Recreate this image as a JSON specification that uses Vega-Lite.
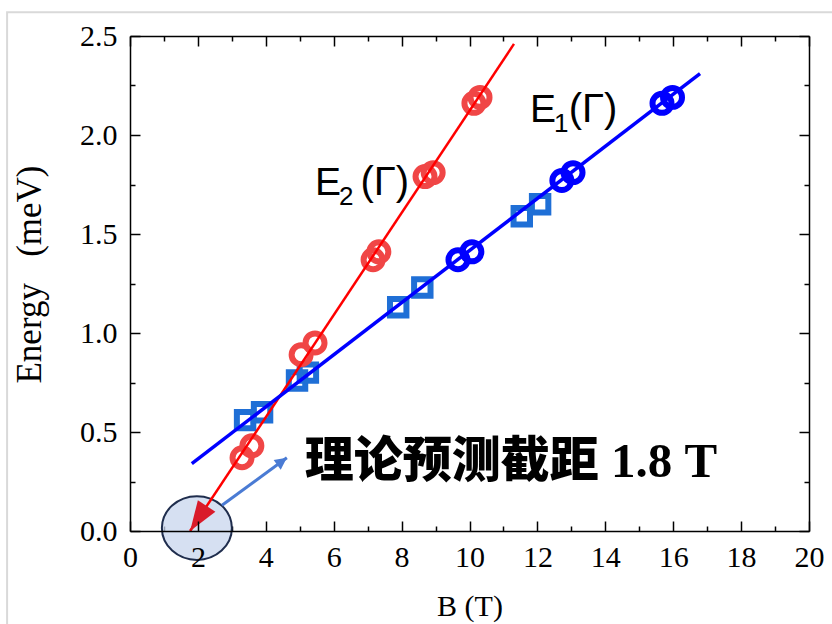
{
  "$schema": "https://vega.github.io/schema/vega-lite/v6.json",
  "width": 679,
  "height": 495,
  "autosize": "none",
  "padding": {"left": 130, "top": 36, "right": 23, "bottom": 93},
  "background": "white",
  "config": {
    "view": {"stroke": null},
    "axis": {
      "domainColor": "black", "domainWidth": 1.5,
      "tickColor": "black", "tickWidth": 1.5,
      "grid": false,
      "labelFont": "Liberation Serif", "labelFontSize": 30, "labelColor": "black",
      "titleFont": "Liberation Serif", "titleFontSize": 30, "titleFontWeight": "normal", "titleColor": "black",
      "labelFlush": false, "labelOverlap": false
    }
  },
  "datasets": {
    "frame": [{"x1": -3.62, "x2": 25, "y1": 2.62, "y2": -1}],
    "ellipse": [{"B": 1.97, "E": 0.015}],
    "pts": [
      {"B": 3.30, "E": 0.37, "series": "E2", "kind": "circle"},
      {"B": 3.59, "E": 0.43, "series": "E2", "kind": "circle"},
      {"B": 5.04, "E": 0.89, "series": "E2", "kind": "circle"},
      {"B": 5.45, "E": 0.95, "series": "E2", "kind": "circle"},
      {"B": 7.16, "E": 1.37, "series": "E2", "kind": "circle"},
      {"B": 7.33, "E": 1.41, "series": "E2", "kind": "circle"},
      {"B": 8.69, "E": 1.79, "series": "E2", "kind": "circle"},
      {"B": 8.93, "E": 1.81, "series": "E2", "kind": "circle"},
      {"B": 10.13, "E": 2.16, "series": "E2", "kind": "circle"},
      {"B": 10.31, "E": 2.19, "series": "E2", "kind": "circle"},
      {"B": 9.66, "E": 1.37, "series": "E1", "kind": "circle"},
      {"B": 10.07, "E": 1.41, "series": "E1", "kind": "circle"},
      {"B": 12.72, "E": 1.77, "series": "E1", "kind": "circle"},
      {"B": 13.05, "E": 1.81, "series": "E1", "kind": "circle"},
      {"B": 15.67, "E": 2.16, "series": "E1", "kind": "circle"},
      {"B": 15.98, "E": 2.19, "series": "E1", "kind": "circle"},
      {"B": 3.39, "E": 0.56, "series": "E1", "kind": "square"},
      {"B": 3.89, "E": 0.60, "series": "E1", "kind": "square"},
      {"B": 4.92, "E": 0.76, "series": "E1", "kind": "square"},
      {"B": 5.24, "E": 0.80, "series": "E1", "kind": "square"},
      {"B": 7.90, "E": 1.13, "series": "E1", "kind": "square"},
      {"B": 8.61, "E": 1.23, "series": "E1", "kind": "square"},
      {"B": 11.54, "E": 1.59, "series": "E1", "kind": "square"},
      {"B": 12.08, "E": 1.65, "series": "E1", "kind": "square"}
    ],
    "fits": [
      {"B": 1.77, "E": 0.0, "series": "E2"},
      {"B": 11.31, "E": 2.46, "series": "E2"},
      {"B": 1.82, "E": 0.34, "series": "E1"},
      {"B": 16.79, "E": 2.31, "series": "E1"}
    ],
    "arrow": [
      {"B": 2.71, "E": 0.13},
      {"B": 4.62, "E": 0.37}
    ],
    "redhead": [{"B": 1.77, "E": 0.0}],
    "bluehead": [{"B": 4.62, "E": 0.37}],
    "labels": [
      {"B": 5.45, "E": 1.697, "Bp": 6.79, "sub": "2"},
      {"B": 11.78, "E": 2.066, "Bp": 12.92, "sub": "1"}
    ],
    "note": [{"B": 5.15, "E": 0.273, "t": "理论预测截距 1.8 T"}]
  },
  "resolve": {"axis": {"x": "independent", "y": "independent"}},
  "layer": [
    {
      "data": {"name": "frame"},
      "mark": {"type": "rect", "fillOpacity": 0, "stroke": "#d9d9d9", "strokeWidth": 2},
      "encoding": {
        "x": {"field": "x1", "type": "quantitative", "scale": {"domain": [0, 20], "nice": false, "zero": false}, "axis": null},
        "x2": {"field": "x2"},
        "y": {"field": "y1", "type": "quantitative", "scale": {"domain": [0, 2.5], "nice": false, "zero": false}, "axis": null},
        "y2": {"field": "y2"}
      }
    },
    {
      "data": {"name": "ellipse"},
      "mark": {"type": "point", "shape": "M-1,0A1,0.91,0,1,1,1,0A1,0.91,0,1,1,-1,0Z", "size": 4900, "filled": true, "fill": "#c8d5ee", "fillOpacity": 0.75, "stroke": "#1f2d4d", "strokeWidth": 2, "opacity": 1},
      "encoding": {
        "x": {"field": "B", "type": "quantitative", "scale": {"domain": [0, 20], "nice": false, "zero": false},
              "axis": {"orient": "bottom", "zindex": 1, "values": [0, 2, 4, 6, 8, 10, 12, 14, 16, 18, 20], "tickSize": -10, "labelPadding": 21, "title": "B (T)", "titlePadding": 19}},
        "y": {"field": "E", "type": "quantitative", "scale": {"domain": [0, 2.5], "nice": false, "zero": false},
              "axis": {"orient": "left", "zindex": 1, "values": [0, 0.5, 1, 1.5, 2, 2.5], "format": ".1f", "tickSize": -10, "labelPadding": 23, "title": "Energy\u00a0\u00a0\u00a0(meV)", "titleFontSize": 35, "titlePadding": 32, "titleY": 238}}
      }
    },
    {
      "data": {"name": "pts"},
      "transform": [{"filter": "datum.kind === 'square'"}],
      "mark": {"type": "point", "shape": "square", "size": 270, "filled": false, "stroke": "#1f6fd6", "strokeWidth": 6, "opacity": 1},
      "encoding": {
        "x": {"field": "B", "type": "quantitative", "scale": {"domain": [0, 20], "nice": false, "zero": false},
              "axis": {"orient": "bottom", "values": [1, 3, 5, 7, 9, 11, 13, 15, 17, 19], "tickSize": -5, "labels": false, "domain": false, "title": null}},
        "y": {"field": "E", "type": "quantitative", "scale": {"domain": [0, 2.5], "nice": false, "zero": false},
              "axis": {"orient": "left", "values": [0.25, 0.75, 1.25, 1.75, 2.25], "tickSize": -5, "labels": false, "domain": false, "title": null}}
      }
    },
    {
      "data": {"name": "pts"},
      "transform": [{"filter": "datum.kind === 'circle' && datum.series === 'E1'"}],
      "mark": {"type": "point", "shape": "circle", "size": 360, "filled": false, "stroke": "#0000ff", "strokeWidth": 6, "opacity": 1},
      "encoding": {
        "x": {"field": "B", "type": "quantitative", "scale": {"domain": [0, 20], "nice": false, "zero": false},
              "axis": {"orient": "top", "values": [0, 2, 4, 6, 8, 10, 12, 14, 16, 18, 20], "tickSize": -10, "labels": false, "title": null}},
        "y": {"field": "E", "type": "quantitative", "scale": {"domain": [0, 2.5], "nice": false, "zero": false},
              "axis": {"orient": "right", "values": [0, 0.5, 1, 1.5, 2, 2.5], "tickSize": -10, "labels": false, "title": null}}
      }
    },
    {
      "data": {"name": "pts"},
      "transform": [{"filter": "datum.kind === 'circle' && datum.series === 'E2'"}],
      "mark": {"type": "point", "shape": "circle", "size": 360, "filled": false, "stroke": "#f04646", "strokeWidth": 6, "opacity": 1},
      "encoding": {
        "x": {"field": "B", "type": "quantitative", "scale": {"domain": [0, 20], "nice": false, "zero": false},
              "axis": {"orient": "top", "values": [1, 3, 5, 7, 9, 11, 13, 15, 17, 19], "tickSize": -5, "labels": false, "domain": false, "title": null}},
        "y": {"field": "E", "type": "quantitative", "scale": {"domain": [0, 2.5], "nice": false, "zero": false},
              "axis": {"orient": "right", "values": [0.25, 0.75, 1.25, 1.75, 2.25], "tickSize": -5, "labels": false, "domain": false, "title": null}}
      }
    },
    {
      "data": {"name": "fits"},
      "transform": [{"filter": "datum.series === 'E2'"}],
      "mark": {"type": "line", "color": "#ff0000", "strokeWidth": 2.5},
      "encoding": {
        "x": {"field": "B", "type": "quantitative", "axis": null},
        "y": {"field": "E", "type": "quantitative", "axis": null}
      }
    },
    {
      "data": {"name": "fits"},
      "transform": [{"filter": "datum.series === 'E1'"}],
      "mark": {"type": "line", "color": "#0000ff", "strokeWidth": 3.5},
      "encoding": {
        "x": {"field": "B", "type": "quantitative", "axis": null},
        "y": {"field": "E", "type": "quantitative", "axis": null}
      }
    },
    {
      "data": {"name": "arrow"},
      "mark": {"type": "line", "color": "#4a7bd4", "strokeWidth": 3},
      "encoding": {
        "x": {"field": "B", "type": "quantitative", "axis": null},
        "y": {"field": "E", "type": "quantitative", "axis": null}
      }
    },
    {
      "data": {"name": "redhead"},
      "mark": {"type": "point", "shape": "M0,0L-0.7,2L0.7,2Z", "size": 900, "filled": true, "fill": "#d91a2a", "strokeWidth": 0, "angle": 213.5, "opacity": 1},
      "encoding": {
        "x": {"field": "B", "type": "quantitative", "axis": null},
        "y": {"field": "E", "type": "quantitative", "axis": null}
      }
    },
    {
      "data": {"name": "bluehead"},
      "mark": {"type": "point", "shape": "M0,0L-1,2L1,2Z", "size": 144, "filled": true, "fill": "#4a7bd4", "strokeWidth": 0, "angle": 53.7, "opacity": 1},
      "encoding": {
        "x": {"field": "B", "type": "quantitative", "axis": null},
        "y": {"field": "E", "type": "quantitative", "axis": null}
      }
    },
    {
      "data": {"name": "labels"},
      "mark": {"type": "text", "text": "E", "font": "Liberation Sans", "fontSize": 39, "align": "left", "baseline": "alphabetic", "color": "black"},
      "encoding": {
        "x": {"field": "B", "type": "quantitative", "axis": null},
        "y": {"field": "E", "type": "quantitative", "axis": null}
      }
    },
    {
      "data": {"name": "labels"},
      "mark": {"type": "text", "font": "Liberation Sans", "fontSize": 26, "align": "left", "baseline": "alphabetic", "color": "black", "dx": 24, "dy": 10},
      "encoding": {
        "x": {"field": "B", "type": "quantitative", "axis": null},
        "y": {"field": "E", "type": "quantitative", "axis": null},
        "text": {"field": "sub"}
      }
    },
    {
      "data": {"name": "labels"},
      "mark": {"type": "text", "text": "(Γ)", "font": "Liberation Sans", "fontSize": 40, "align": "left", "baseline": "alphabetic", "color": "black"},
      "encoding": {
        "x": {"field": "Bp", "type": "quantitative", "axis": null},
        "y": {"field": "E", "type": "quantitative", "axis": null}
      }
    },
    {
      "data": {"name": "note"},
      "mark": {"type": "text", "font": "Liberation Serif, Noto Sans CJK SC", "fontSize": 49, "fontWeight": 900, "align": "left", "baseline": "alphabetic", "color": "black"},
      "encoding": {
        "x": {"field": "B", "type": "quantitative", "axis": null},
        "y": {"field": "E", "type": "quantitative", "axis": null},
        "text": {"field": "t"}
      }
    }
  ]
}
